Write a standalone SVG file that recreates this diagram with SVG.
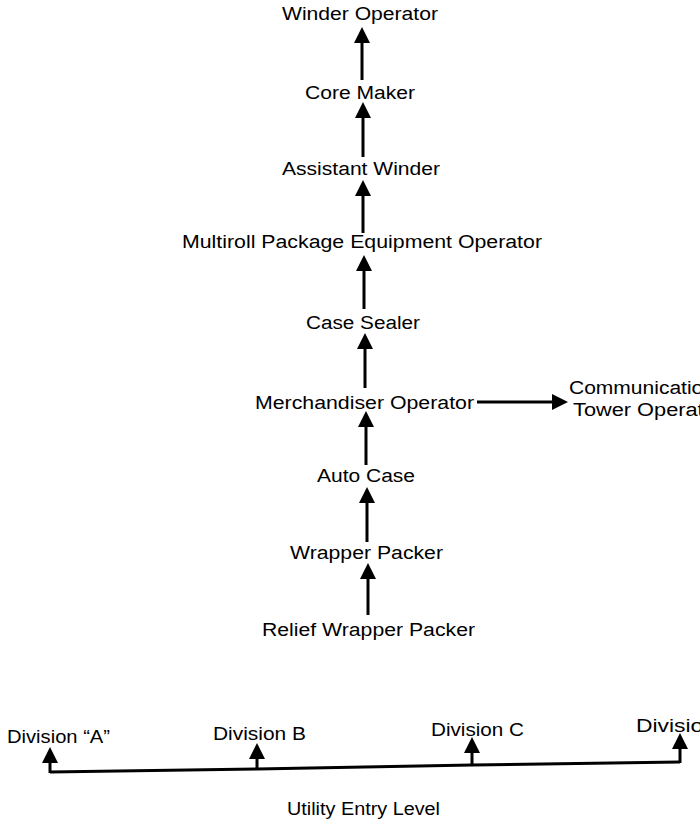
<svg xmlns="http://www.w3.org/2000/svg" width="700" height="823" viewBox="0 0 700 823">
<style>
text{font-family:"Liberation Sans",Arial,Helvetica,sans-serif;font-size:18px;fill:#000}
.c{stroke:#000;stroke-width:3;fill:none}
</style>
<defs>
<marker id="ah" markerUnits="userSpaceOnUse" markerWidth="16" markerHeight="16" refX="6" refY="8" orient="auto" viewBox="0 0 16 16">
<path d="M0,0 L16,8 L0,16 z" fill="#000"/>
</marker>
</defs>
<rect width="700" height="823" fill="#fff"/>
<g id="n-winder-operator"><text x="282" y="20" textLength="156" lengthAdjust="spacingAndGlyphs">Winder Operator</text></g>
<g id="n-core-maker"><text x="305" y="99" textLength="110" lengthAdjust="spacingAndGlyphs">Core Maker</text></g>
<g id="n-assistant-winder"><text x="282" y="175" textLength="158" lengthAdjust="spacingAndGlyphs">Assistant Winder</text></g>
<g id="n-multiroll"><text x="182" y="248" textLength="360" lengthAdjust="spacingAndGlyphs">Multiroll Package Equipment Operator</text></g>
<g id="n-case-sealer"><text x="306" y="329" textLength="114" lengthAdjust="spacingAndGlyphs">Case Sealer</text></g>
<g id="n-merchandiser"><text x="255" y="409" textLength="219" lengthAdjust="spacingAndGlyphs">Merchandiser Operator</text></g>
<g id="n-communication"><text x="569" y="394" textLength="146" lengthAdjust="spacingAndGlyphs">Communication</text><text x="573" y="416" textLength="150" lengthAdjust="spacingAndGlyphs">Tower Operator</text></g>
<g id="n-auto-case"><text x="317" y="482" textLength="98" lengthAdjust="spacingAndGlyphs">Auto Case</text></g>
<g id="n-wrapper-packer"><text x="290" y="559" textLength="153" lengthAdjust="spacingAndGlyphs">Wrapper Packer</text></g>
<g id="n-relief-wrapper-packer"><text x="262" y="636" textLength="213" lengthAdjust="spacingAndGlyphs">Relief Wrapper Packer</text></g>
<g id="n-division-a"><text x="7" y="743" textLength="103" lengthAdjust="spacingAndGlyphs">Division “A”</text></g>
<g id="n-division-b"><text x="213" y="740" textLength="93" lengthAdjust="spacingAndGlyphs">Division B</text></g>
<g id="n-division-c"><text x="431" y="736" textLength="93" lengthAdjust="spacingAndGlyphs">Division C</text></g>
<g id="n-division-d"><text x="636" y="732" textLength="80" lengthAdjust="spacingAndGlyphs">Division</text></g>
<g id="n-utility"><text x="287" y="815" textLength="153" lengthAdjust="spacingAndGlyphs">Utility Entry Level</text></g>
<g id="connectors">
<line class="c" x1="362" y1="80" x2="362" y2="37" marker-end="url(#ah)"/>
<line class="c" x1="363" y1="157" x2="363" y2="112" marker-end="url(#ah)"/>
<line class="c" x1="363" y1="233" x2="363" y2="190" marker-end="url(#ah)"/>
<line class="c" x1="364" y1="309" x2="364" y2="265" marker-end="url(#ah)"/>
<line class="c" x1="365" y1="388" x2="365" y2="343" marker-end="url(#ah)"/>
<line class="c" x1="477" y1="402" x2="558" y2="402" marker-end="url(#ah)"/>
<line class="c" x1="366" y1="465" x2="366" y2="421" marker-end="url(#ah)"/>
<line class="c" x1="367" y1="542" x2="367" y2="497" marker-end="url(#ah)"/>
<line class="c" x1="368" y1="615" x2="368" y2="573" marker-end="url(#ah)"/>
<path class="c" d="M50,772 L257,769 L472,765 L680,762" />
<line class="c" x1="50" y1="773" x2="50" y2="757" marker-end="url(#ah)"/>
<line class="c" x1="257" y1="769" x2="257" y2="753" marker-end="url(#ah)"/>
<line class="c" x1="472" y1="765" x2="472" y2="747" marker-end="url(#ah)"/>
<line class="c" x1="680" y1="763" x2="680" y2="743" marker-end="url(#ah)"/>
</g>
</svg>
